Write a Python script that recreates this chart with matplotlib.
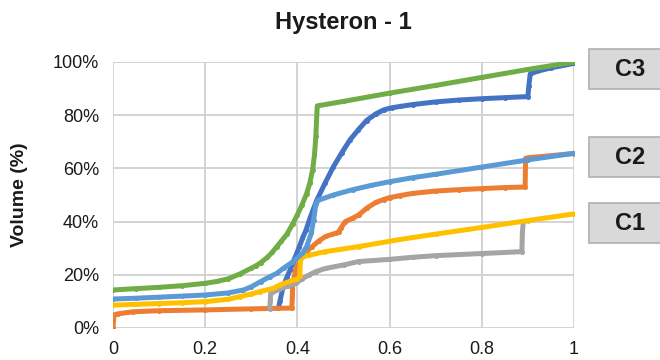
import matplotlib
import matplotlib.pyplot as plt
from matplotlib.patches import Rectangle
from matplotlib.ticker import FuncFormatter

matplotlib.use("Agg")

plt.rcParams['font.family'] = ['Liberation Sans', 'DejaVu Sans']

# series values (x = fraction, y = volume %)
blue_x = [0.359, 0.362, 0.369, 0.377, 0.384, 0.39, 0.397, 0.404, 0.411, 0.419, 0.426,
          0.433, 0.442, 0.46, 0.478, 0.496, 0.514, 0.532, 0.55, 0.57, 0.587, 0.605,
          0.623, 0.65, 0.7, 0.75, 0.8, 0.85, 0.9, 0.902, 0.905, 0.92, 0.95, 1.0]
blue_y = [7.5, 10, 15.5, 19, 21.8, 24.5, 27.4, 30.5, 33.7, 37, 40.6,
          44, 48, 54.5, 60.6, 65.8, 70.7, 74.5, 78, 80.5, 82, 82.8,
          83.3, 84, 85, 85.7, 86.2, 86.6, 87, 91, 95.5, 96.5, 97.8, 99.5]

orange_x = [0, 0.002, 0.01, 0.043, 0.1, 0.2, 0.3, 0.388, 0.389, 0.39, 0.397, 0.404,
            0.411, 0.42, 0.432, 0.447, 0.461, 0.475, 0.483, 0.49, 0.494, 0.504, 0.52,
            0.533, 0.55, 0.57, 0.587, 0.6, 0.623, 0.65, 0.7, 0.75, 0.8, 0.85, 0.894,
            0.895, 0.9, 0.95, 1.0]
orange_y = [0, 4.9, 5.3, 6.1, 6.5, 6.8, 7.2, 7.5, 12, 16.8, 22.4, 24.8,
            26.8, 28.8, 30.6, 32.8, 34.4, 35.2, 35.6, 36.2, 37.5, 40, 41.3,
            42.5, 45, 47.2, 48.3, 49, 49.8, 50.6, 51.5, 52, 52.4, 52.8, 53,
            63.8, 64, 64.8, 65.6]

gray_x = [0.34, 0.341, 0.342, 0.36, 0.38, 0.397, 0.41, 0.426, 0.44, 0.461, 0.5,
          0.533, 0.6, 0.65, 0.7, 0.8, 0.887, 0.888, 0.89]
gray_y = [7.3, 10, 13, 14.5, 15.8, 16.8, 18.5, 20, 21.2, 22.4, 23.7,
          25, 25.8, 26.6, 27.2, 28, 28.7, 36, 39.8]

yellow_x = [0, 0.05, 0.1, 0.15, 0.2, 0.25, 0.275, 0.3, 0.319, 0.348, 0.362, 0.391,
            0.4, 0.405, 0.407, 0.415, 0.426, 0.46, 0.533, 0.623, 0.7, 0.8, 0.9, 1.0]
yellow_y = [8.6, 8.9, 9.2, 9.5, 9.9, 10.8, 11.8, 12.8, 13.7, 14.9, 16.2, 18,
            18.5, 19.5, 26.3, 27, 27.4, 28.7, 30.6, 33.3, 35.3, 37.8, 40.4, 42.9]

lblue_x = [0, 0.05, 0.1, 0.15, 0.2, 0.25, 0.283, 0.3, 0.32, 0.34, 0.355, 0.37, 0.391,
           0.411, 0.42, 0.43, 0.435, 0.44, 0.445, 0.478, 0.52, 0.56, 0.6, 0.65, 0.7,
           0.8, 0.9, 1.0]
lblue_y = [10.9, 11.2, 11.6, 12.0, 12.4, 13.2, 14.3, 15.5, 17.4, 19.3, 20.5, 22.5, 25,
           28.1, 30.6, 35.6, 40.5, 46.5, 48, 50, 52, 53.6, 55, 56.5, 57.8,
           60.5, 63.2, 65.7]

green_x = [0, 0.05, 0.1, 0.15, 0.2, 0.225, 0.25, 0.275, 0.3, 0.31, 0.32, 0.335, 0.345,
           0.355, 0.365, 0.377, 0.39, 0.4, 0.41, 0.42, 0.427, 0.433, 0.437, 0.44, 0.443,
           0.5, 0.6, 0.7, 0.8, 0.9, 1.0]
green_y = [14.3, 14.8, 15.3, 15.9, 16.8, 17.5, 18.5, 20.3, 22.5, 23.4, 24.5, 26.6, 28.4,
           30.5, 32.6, 35.2, 39.2, 42.6, 46.3, 50.5, 54.5, 59.5, 65, 72, 83.5,
           85.2, 88.3, 91.2, 94.2, 97.2, 100]

series = [
    (blue_x, blue_y, "#4472C4"),
    (orange_x, orange_y, "#ED7D31"),
    (gray_x, gray_y, "#A5A5A5"),
    (yellow_x, yellow_y, "#FFC000"),
    (lblue_x, lblue_y, "#5B9BD5"),
    (green_x, green_y, "#70AD47"),
]

labels = ["C3", "C2", "C1"]
label_y = [69, 157, 223]  # box centres, pixels from top

fig = plt.figure(figsize=(6.6, 3.6), dpi=100)
ax = fig.add_axes([113 / 660, 32 / 360, 461 / 660, 266 / 360])

for x, y, c in series:
    ax.plot(x, y, color=c, lw=3.6, marker="o", ms=3.6, mew=0,
            solid_capstyle="round", solid_joinstyle="round")

ax.set_xlim(0, 1)
ax.set_ylim(0, 100)
ax.set_xticks([0, 0.2, 0.4, 0.6, 0.8, 1.0])
ax.set_xticklabels(["0", "0.2", "0.4", "0.6", "0.8", "1"])
ax.set_yticks([0, 20, 40, 60, 80, 100])
ax.yaxis.set_major_formatter(FuncFormatter(lambda v, p: f"{v:.0f}%"))
ax.grid(True, color="#d0d0d0", lw=1.3)
ax.set_axisbelow(True)
for s in ax.spines.values():
    s.set_visible(False)
ax.tick_params(length=0, labelsize=13, colors="#404040")
ax.tick_params(axis="y", pad=10)
ax.tick_params(axis="x", pad=9)
for t in ax.get_xticklabels() + ax.get_yticklabels():
    t.set_color("#1a1a1a")

ax.set_ylabel("Volume (%)", fontsize=14, fontweight="bold", color="#1a1a1a")
ax.yaxis.set_label_coords(-0.184, 0.5)

fig.text(343 / 660, 1 - 22 / 360, "Hysteron - 1", ha="center", va="center",
         fontsize=17, fontweight="bold", color="#1a1a1a")

for lab, yc in zip(labels, label_y):
    fig.patches.append(Rectangle((589 / 660, 1 - (yc + 20) / 360), 80 / 660, 40 / 360,
                                 transform=fig.transFigure, facecolor="#d9d9d9",
                                 edgecolor="#b0b0b0", lw=1.2))
    fig.text(630 / 660, 1 - yc / 360, lab, ha="center", va="center",
             fontsize=17, fontweight="bold", color="#1a1a1a")

fig.savefig("out.png", dpi=100)
